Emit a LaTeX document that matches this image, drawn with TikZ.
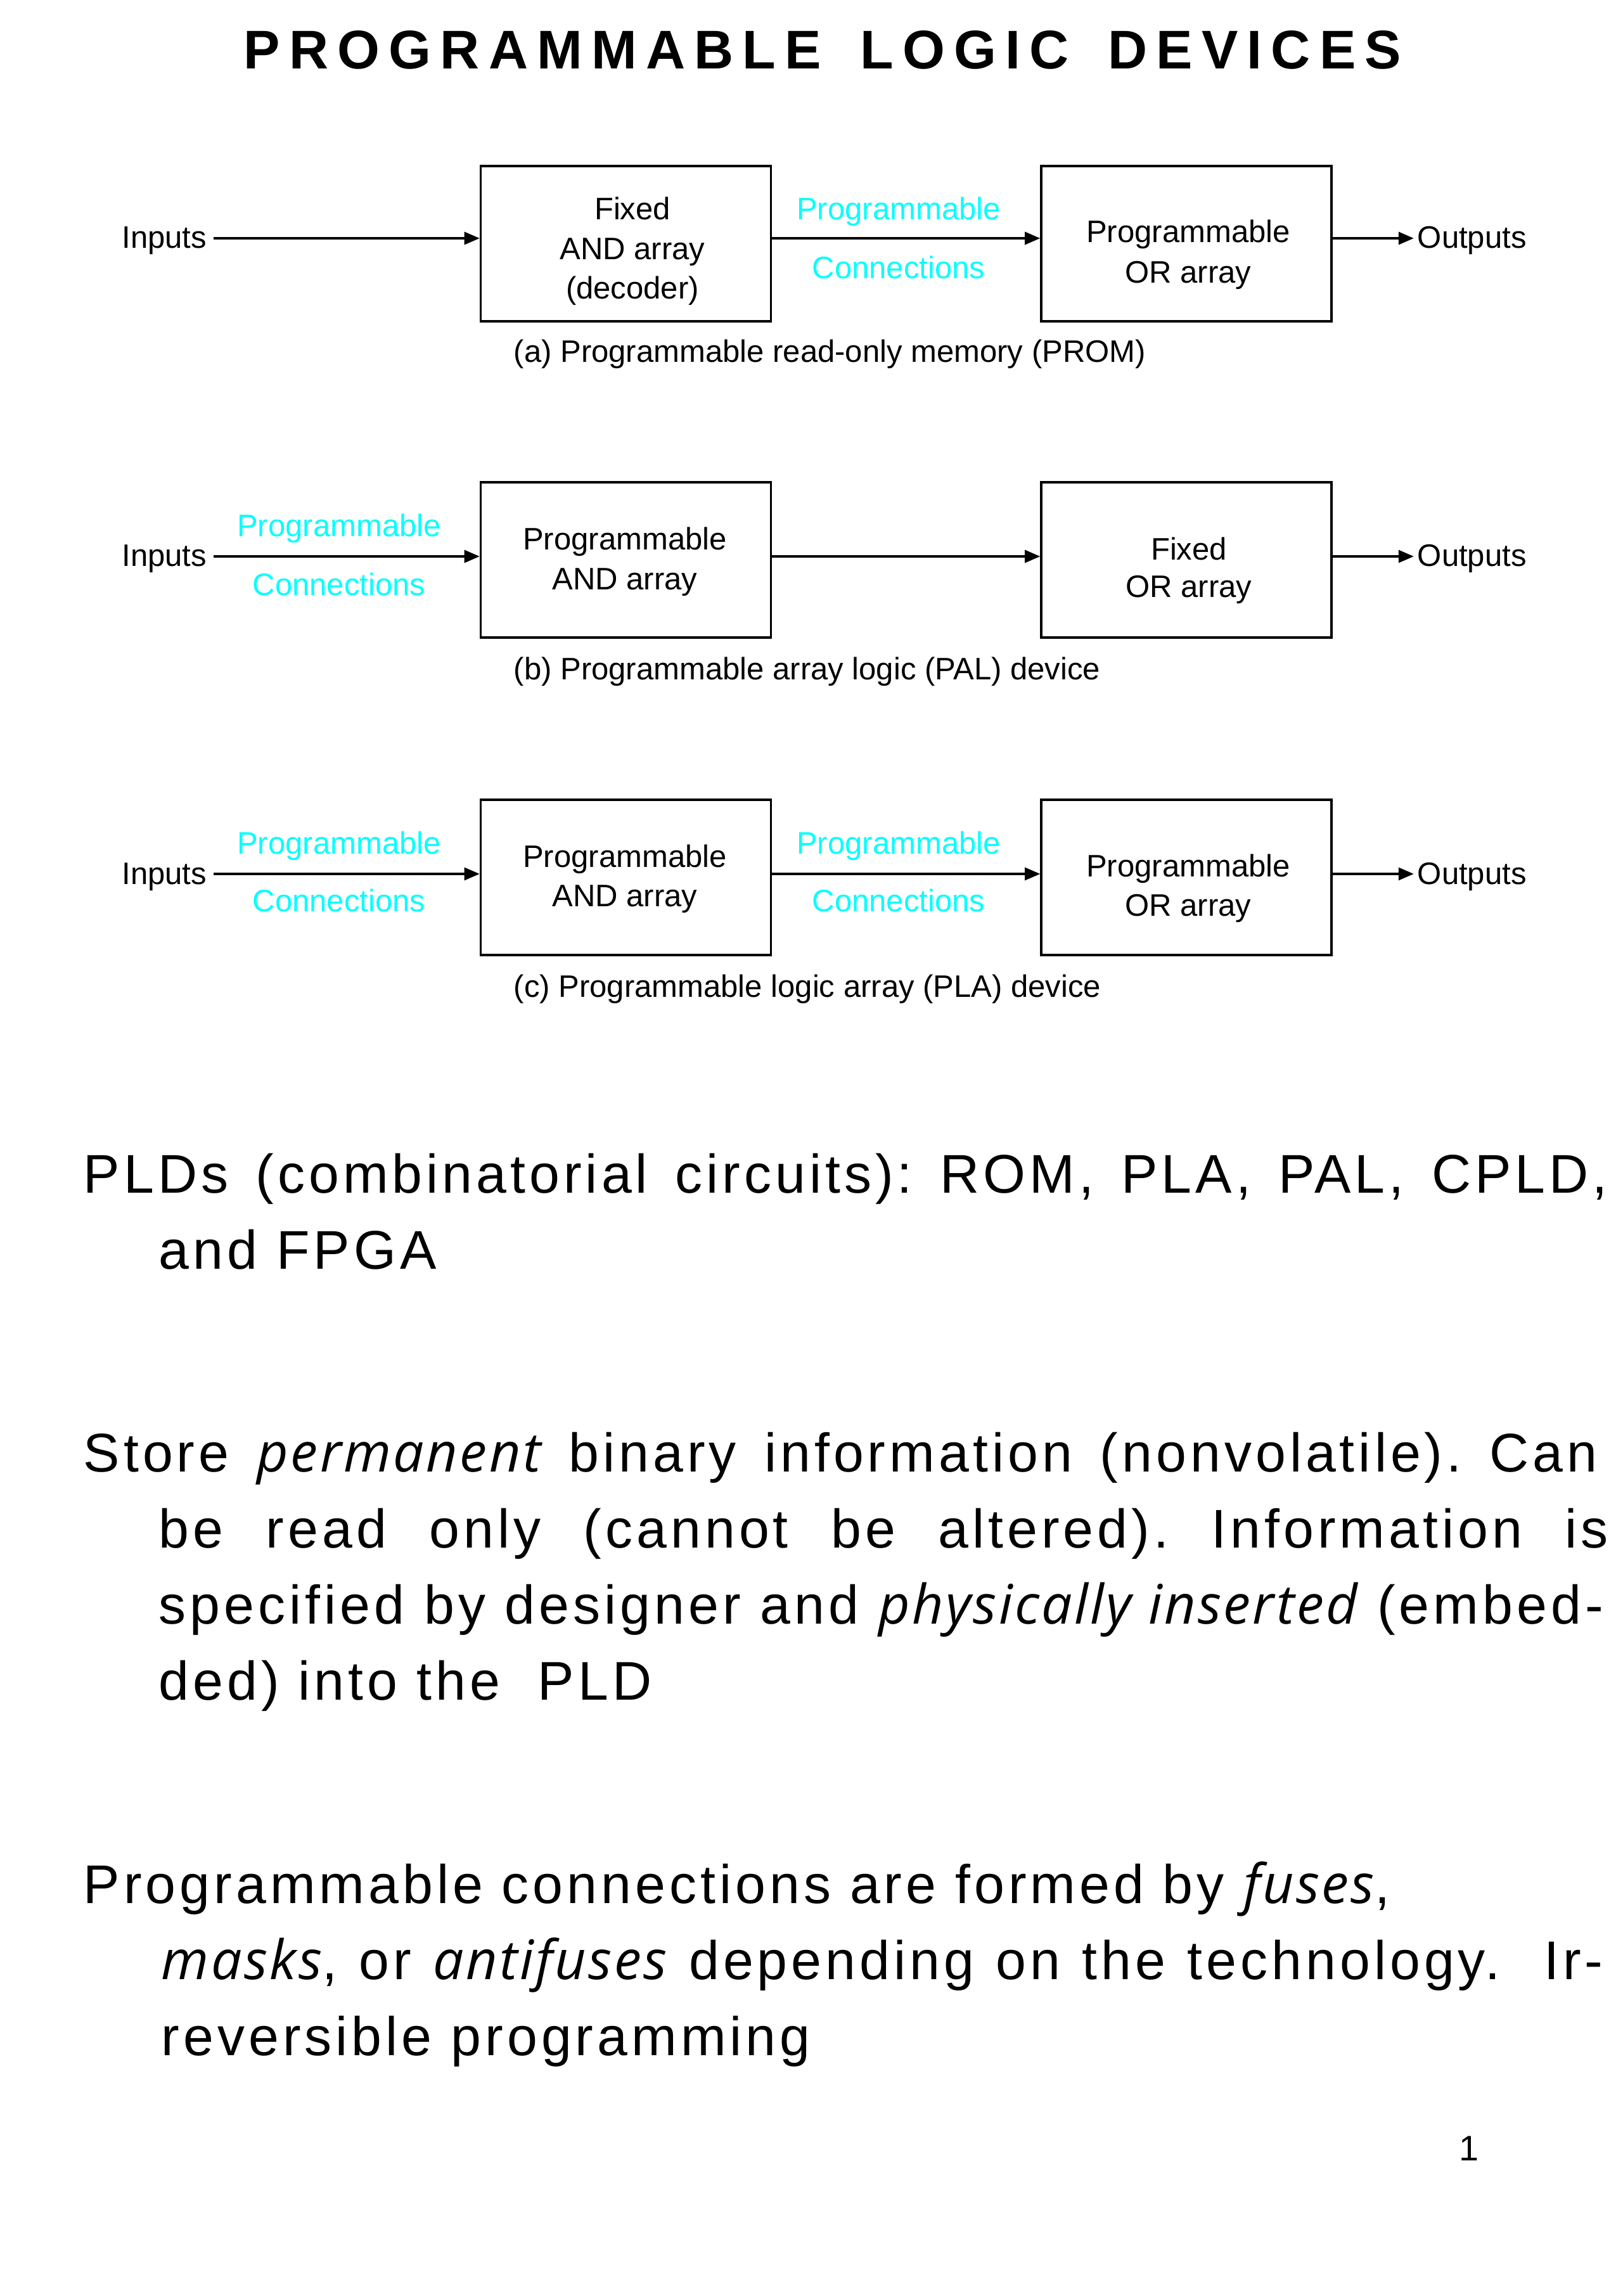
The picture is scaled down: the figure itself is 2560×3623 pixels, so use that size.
\documentclass[tikz,border=0pt]{standalone}
\usepackage{fontspec}
\setmainfont{Liberation Sans}
\newfontfamily\bodyfont{Liberation Sans}[LetterSpace=7]
\newfontfamily\titlefont{Liberation Sans}[LetterSpace=16.5]
\newfontfamily\itfam{Open Sans}[LetterSpace=4]
\newcommand{\itf}{\itfam\itshape}
\newcommand{\tgap}{\hspace{5.5pt}}
\usetikzlibrary{arrows.meta}
\definecolor{conncyan}{RGB}{0,255,255}
\begin{document}
\begin{tikzpicture}[x=0.23253pt,y=-0.23253pt,
  blockbox/.style={draw, line width=0.8pt, minimum width=106.5pt, minimum height=57pt, inner sep=0pt},
  dtext/.style={font=\fontsize{11.4}{14}\selectfont, inner sep=0pt, anchor=base},
  ctext/.style={dtext, text=conncyan},
  arr/.style={-{Triangle[length=5.6pt,width=4.6pt]}, line width=0.8pt},
  bodyline/.style={font=\bodyfont\fontsize{20}{24}\selectfont\frenchspacing, inner sep=0pt, anchor=base west}
]
\useasboundingbox (0,0) rectangle (2560,3623);

% title
\node[font=\titlefont\fontsize{20}{24}\selectfont\bfseries, inner sep=0pt, anchor=base] (title) at (1298,109) {PROGRAMMABLE\tgap{} LOGIC\tgap{} DEVICES};

% ---------- (a) PROM ----------
\coordinate (la) at (0,376);
\node[blockbox] (a1) at (987.5,384.5) {};
\node[blockbox] (a2) at (1872,384.5) {};
\node[dtext] (a1t1) at (998,347) {Fixed};
\node[dtext] (a1t2) at (998,410) {AND array};
\node[dtext] (a1t3) at (998,472) {(decoder)};
\node[dtext] (a2t1) at (1875,383) {Programmable};
\node[dtext] (a2t2) at (1875,447) {OR array};
\node[ctext] (ac1) at (1418,347) {Programmable};
\node[ctext] (ac2) at (1418,440) {Connections};
\node[dtext, anchor=base east] (ina) at (327,392) {Inputs};
\node[dtext, anchor=base west] (outa) at (2236,392) {Outputs};
\node[dtext, anchor=base west] (capa) at (810,572) {(a) Programmable read-only memory (PROM)};
\draw[arr, shorten <=2.3pt] (ina.east |- la) -- (a1.west |- la);
\draw[arr] (a1.east |- la) -- (a2.west |- la);
\draw[arr, shorten >=1.2pt] (a2.east |- la) -- (outa.west |- la);

% ---------- (b) PAL ----------
\coordinate (lb) at (0,878);
\node[blockbox] (b1) at (987.5,883.5) {};
\node[blockbox] (b2) at (1872,883.5) {};
\node[dtext] (b1t1) at (986,868) {Programmable};
\node[dtext] (b1t2) at (986,930) {AND array};
\node[dtext] (b2t1) at (1876,884) {Fixed};
\node[dtext] (b2t2) at (1876,943) {OR array};
\node[ctext] (bc1) at (535,847) {Programmable};
\node[ctext] (bc2) at (535,940) {Connections};
\node[dtext, anchor=base east] (inb) at (327,894) {Inputs};
\node[dtext, anchor=base west] (outb) at (2236,894) {Outputs};
\node[dtext, anchor=base west] (capb) at (810,1072) {(b) Programmable array logic (PAL) device};
\draw[arr, shorten <=2.3pt] (inb.east |- lb) -- (b1.west |- lb);
\draw[arr] (b1.east |- lb) -- (b2.west |- lb);
\draw[arr, shorten >=1.2pt] (b2.east |- lb) -- (outb.west |- lb);

% ---------- (c) PLA ----------
\coordinate (lc) at (0,1379);
\node[blockbox] (c1) at (987.5,1384.5) {};
\node[blockbox] (c2) at (1872,1384.5) {};
\node[dtext] (c1t1) at (986,1368) {Programmable};
\node[dtext] (c1t2) at (986,1430) {AND array};
\node[dtext] (c2t1) at (1875,1383) {Programmable};
\node[dtext] (c2t2) at (1875,1445) {OR array};
\node[ctext] (cc1) at (535,1347) {Programmable};
\node[ctext] (cc2) at (535,1438) {Connections};
\node[ctext] (cc3) at (1418,1347) {Programmable};
\node[ctext] (cc4) at (1418,1438) {Connections};
\node[dtext, anchor=base east] (inc) at (327,1395) {Inputs};
\node[dtext, anchor=base west] (outc) at (2236,1395) {Outputs};
\node[dtext, anchor=base west] (capc) at (810,1573) {(c) Programmable logic array (PLA) device};
\draw[arr, shorten <=2.3pt] (inc.east |- lc) -- (c1.west |- lc);
\draw[arr] (c1.east |- lc) -- (c2.west |- lc);
\draw[arr, shorten >=1.2pt] (c2.east |- lc) -- (outc.west |- lc);

% ---------- body text ----------
\node[bodyline] (p1l1) at (131,1882) {\makebox[559.2pt][s]{PLDs (combinatorial circuits): ROM, PLA, PAL, CPLD,}};
\node[bodyline] (p1l2) at (250,2002) {and FPGA};

\node[bodyline] (p2l1) at (131,2322) {\makebox[555.5pt][s]{Store {\itf permanent} binary information (nonvolatile). Can}};
\node[bodyline] (p2l2) at (250,2442) {\makebox[531.8pt][s]{be read only (cannot be altered). Information is}};
\node[bodyline] (p2l3) at (250,2562) {\makebox[529.9pt][s]{specified by designer and {\itf physically inserted} (embed-}};
\node[bodyline] (p2l4) at (250,2682) {ded) into the\ \ PLD};

\node[bodyline] (p3l1) at (131,3003) {Programmable connections are formed by {\itf fuses},};
\node[bodyline] (p3l2) at (254,3123) {\makebox[529pt][s]{{\itf masks}, or {\itf antifuses} depending on the technology.\ \ Ir-}};
\node[bodyline] (p3l3) at (254,3243) {reversible programming};

\node[font=\fontsize{13}{15}\selectfont, inner sep=0pt, anchor=base] (pgno) at (2318,3409) {1};
\end{tikzpicture}
\end{document}
